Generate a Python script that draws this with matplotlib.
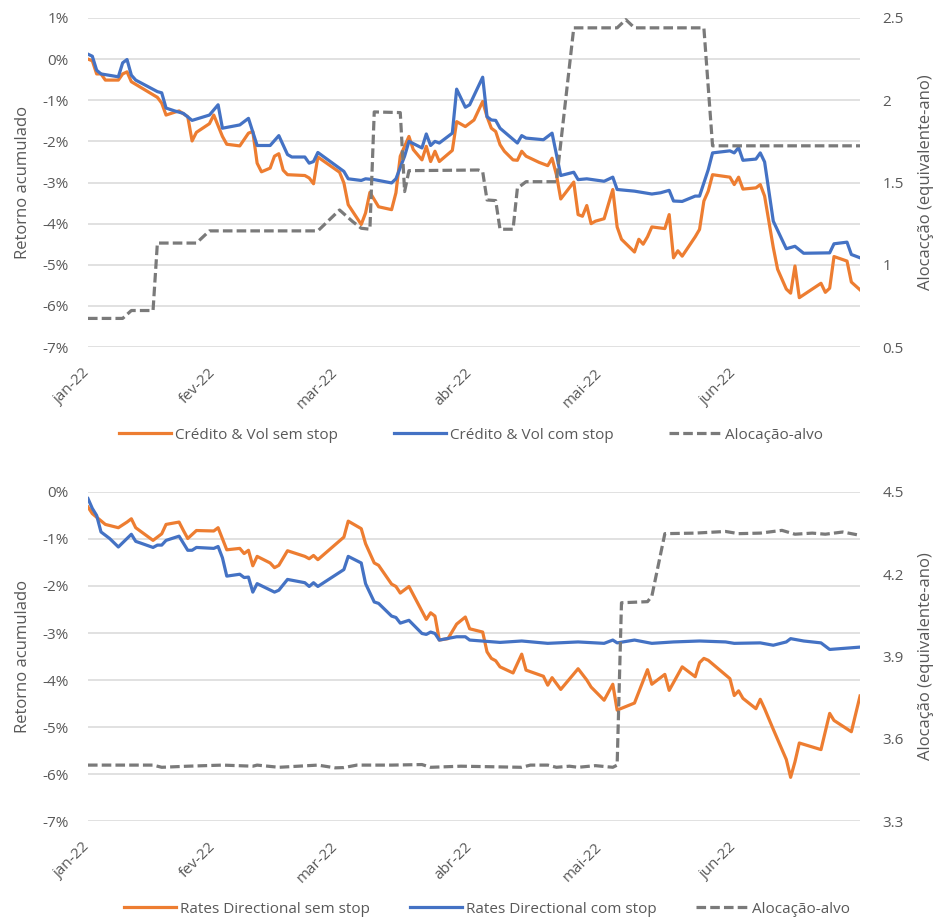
import matplotlib
matplotlib.use("Agg")
import matplotlib.pyplot as plt
from matplotlib.transforms import ScaledTranslation
import pandas as pd

# ---------------------------------------------------------------------------
# Dados (retorno acumulado em %, alocação em equivalente-ano)
# ---------------------------------------------------------------------------

MESES = ["jan-22", "fev-22", "mar-22", "abr-22", "mai-22", "jun-22"]
TICKS_MESES = ["01-03", "02-01", "03-01", "04-01", "05-01", "06-01"]

# Painel 1: Crédito & Vol
CV_SEM_DATAS = [
    "01-03", "01-04", "01-05", "01-06", "01-07", "01-10", "01-11", "01-12", "01-13", "01-19",
    "01-20", "01-21", "01-23", "01-24", "01-26", "01-27", "01-28", "01-31", "02-01", "02-03",
    "02-04", "02-07", "02-09", "02-10", "02-11", "02-12", "02-14", "02-15", "02-16", "02-17",
    "02-18", "02-22", "02-23", "02-24", "02-25", "03-02", "03-03", "03-04", "03-07", "03-08",
    "03-09", "03-11", "03-14", "03-15", "03-16", "03-17", "03-18", "03-19", "03-21", "03-22",
    "03-23", "03-24", "03-25", "03-28", "03-29", "03-31", "04-02", "04-04", "04-05", "04-06",
    "04-07", "04-08", "04-09", "04-11", "04-12", "04-13", "04-14", "04-17", "04-19", "04-20",
    "04-21", "04-22", "04-25", "04-26", "04-27", "04-28", "04-29", "04-30", "05-02", "05-04",
    "05-05", "05-06", "05-09", "05-10", "05-11", "05-12", "05-13", "05-16", "05-17", "05-18",
    "05-19", "05-20", "05-23", "05-24", "05-25", "05-26", "05-27", "05-31", "06-01", "06-02",
    "06-03", "06-06", "06-07", "06-08", "06-10", "06-11", "06-13", "06-14", "06-15", "06-16",
    "06-21", "06-22", "06-23", "06-24", "06-27", "06-28", "06-30",
]
CV_SEM = [
    0.00, -0.04, -0.36, -0.36, -0.51, -0.51, -0.36, -0.31, -0.55, -0.93,
    -1.07, -1.36, -1.29, -1.26, -1.40, -1.99, -1.78, -1.57, -1.36, -1.88,
    -2.07, -2.11, -1.80, -1.76, -2.53, -2.74, -2.65, -2.36, -2.30, -2.70,
    -2.81, -2.83, -2.89, -3.03, -2.38, -2.75, -3.01, -3.54, -4.02, -3.74,
    -3.24, -3.59, -3.66, -3.25, -2.36, -2.12, -1.88, -2.20, -2.45, -2.12,
    -2.49, -2.24, -2.49, -2.22, -1.52, -1.64, -1.48, -1.03, -1.40, -1.68,
    -1.76, -2.08, -2.24, -2.45, -2.46, -2.24, -2.36, -2.51, -2.59, -2.41,
    -2.81, -3.40, -2.99, -3.78, -3.82, -3.56, -4.00, -3.94, -3.88, -3.17,
    -4.08, -4.38, -4.69, -4.38, -4.50, -4.32, -4.08, -4.12, -3.78, -4.83,
    -4.66, -4.79, -4.32, -4.14, -3.45, -3.21, -2.81, -2.87, -3.05, -2.87,
    -3.16, -3.13, -3.05, -3.33, -4.58, -5.11, -5.59, -5.69, -5.03, -5.80,
    -5.45, -5.67, -5.57, -4.80, -4.91, -5.42, -5.61,
]

CV_COM_DATAS = [
    "01-03", "01-04", "01-05", "01-06", "01-10", "01-11", "01-12", "01-13", "01-14", "01-19",
    "01-20", "01-21", "01-23", "01-25", "01-27", "01-31", "02-02", "02-03", "02-07", "02-09",
    "02-11", "02-14", "02-16", "02-18", "02-19", "02-22", "02-23", "02-24", "02-25", "03-03",
    "03-04", "03-07", "03-08", "03-10", "03-14", "03-15", "03-17", "03-18", "03-21", "03-22",
    "03-23", "03-24", "03-25", "03-28", "03-29", "03-31", "04-01", "04-04", "04-05", "04-06",
    "04-07", "04-08", "04-12", "04-13", "04-14", "04-18", "04-20", "04-22", "04-25", "04-26",
    "04-28", "05-02", "05-04", "05-05", "05-09", "05-13", "05-15", "05-17", "05-18", "05-20",
    "05-23", "05-24", "05-25", "05-26", "05-27", "05-31", "06-01", "06-02", "06-03", "06-06",
    "06-07", "06-08", "06-10", "06-13", "06-15", "06-17", "06-23", "06-24", "06-27", "06-28",
    "06-30",
]
CV_COM = [
    0.12, 0.07, -0.27, -0.36, -0.43, -0.09, -0.01, -0.39, -0.51, -0.79,
    -0.82, -1.19, -1.26, -1.32, -1.49, -1.36, -1.11, -1.68, -1.60, -1.44,
    -2.10, -2.10, -1.86, -2.32, -2.38, -2.38, -2.53, -2.49, -2.27, -2.73,
    -2.91, -2.95, -2.91, -2.93, -3.01, -2.91, -2.36, -2.00, -2.16, -1.82,
    -2.10, -2.00, -2.04, -1.80, -0.73, -1.17, -1.11, -0.44, -1.40, -1.48,
    -1.49, -1.68, -2.04, -1.86, -1.92, -1.96, -1.80, -2.83, -2.75, -2.93,
    -2.91, -2.97, -2.87, -3.17, -3.21, -3.28, -3.25, -3.19, -3.45, -3.46,
    -3.33, -3.33, -3.01, -2.69, -2.28, -2.23, -2.28, -2.15, -2.46, -2.43,
    -2.28, -2.50, -3.94, -4.61, -4.55, -4.72, -4.71, -4.49, -4.45, -4.75,
    -4.83,
]

CV_ALOC_DATAS = [
    "01-03", "01-11", "01-13", "01-18", "01-19", "01-28", "01-31", "02-25", "03-02", "03-05",
    "03-07", "03-09", "03-10", "03-16", "03-17", "03-18", "04-03", "04-04", "04-05", "04-07",
    "04-08", "04-11", "04-12", "04-14", "04-21", "04-25", "05-05", "05-07", "05-09", "05-25",
    "05-27", "06-30",
]
CV_ALOC = [
    0.674, 0.674, 0.722, 0.722, 1.132, 1.132, 1.206, 1.206, 1.333, 1.263,
    1.222, 1.216, 1.929, 1.925, 1.445, 1.572, 1.576, 1.566, 1.394, 1.390,
    1.216, 1.216, 1.465, 1.505, 1.505, 2.440, 2.440, 2.490, 2.440, 2.440,
    1.723, 1.723,
]

# Painel 2: Rates Directional
RD_SEM_DATAS = [
    "01-03", "01-04", "01-07", "01-10", "01-12", "01-13", "01-14", "01-18", "01-20", "01-21",
    "01-24", "01-25", "01-26", "01-28", "02-01", "02-02", "02-04", "02-07", "02-08", "02-09",
    "02-10", "02-11", "02-14", "02-15", "02-16", "02-18", "02-22", "02-23", "02-24", "02-25",
    "03-03", "03-04", "03-07", "03-08", "03-10", "03-11", "03-14", "03-15", "03-16", "03-18",
    "03-22", "03-23", "03-24", "03-25", "03-27", "03-29", "03-31", "04-01", "04-04", "04-05",
    "04-06", "04-07", "04-08", "04-11", "04-13", "04-14", "04-18", "04-19", "04-20", "04-22",
    "04-26", "04-28", "04-29", "05-02", "05-04", "05-05", "05-09", "05-12", "05-13", "05-16",
    "05-17", "05-20", "05-23", "05-24", "05-25", "05-26", "05-31", "06-01", "06-02", "06-03",
    "06-06", "06-07", "06-08", "06-10", "06-13", "06-14", "06-15", "06-16", "06-21", "06-23",
    "06-24", "06-28", "06-30",
]
RD_SEM = [
    -0.32, -0.46, -0.69, -0.76, -0.64, -0.57, -0.76, -1.03, -0.89, -0.69,
    -0.64, -0.82, -0.99, -0.82, -0.83, -0.76, -1.23, -1.20, -1.31, -1.24,
    -1.57, -1.37, -1.51, -1.61, -1.56, -1.25, -1.37, -1.42, -1.35, -1.44,
    -0.96, -0.62, -0.78, -1.10, -1.51, -1.56, -1.96, -2.01, -2.15, -2.01,
    -2.71, -2.57, -2.64, -3.15, -3.12, -2.81, -2.66, -2.91, -2.98, -3.40,
    -3.54, -3.59, -3.72, -3.85, -3.45, -3.79, -3.92, -4.11, -3.95, -4.20,
    -3.76, -4.00, -4.15, -4.43, -4.09, -4.64, -4.49, -3.78, -4.09, -3.88,
    -4.22, -3.72, -3.93, -3.63, -3.54, -3.58, -3.97, -4.33, -4.23, -4.39,
    -4.61, -4.41, -4.61, -5.05, -5.69, -6.07, -5.74, -5.34, -5.48, -4.71,
    -4.86, -5.10, -4.34,
]

RD_COM_DATAS = [
    "01-03", "01-04", "01-05", "01-06", "01-08", "01-10", "01-11", "01-13", "01-14", "01-18",
    "01-19", "01-20", "01-21", "01-24", "01-26", "01-27", "01-28", "02-01", "02-02", "02-03",
    "02-04", "02-07", "02-08", "02-09", "02-10", "02-11", "02-15", "02-16", "02-18", "02-22",
    "02-23", "02-24", "02-25", "03-03", "03-04", "03-07", "03-08", "03-10", "03-11", "03-14",
    "03-15", "03-16", "03-18", "03-21", "03-22", "03-23", "03-24", "03-25", "03-29", "03-31",
    "04-01", "04-08", "04-13", "04-19", "04-26", "05-02", "05-04", "05-05", "05-09", "05-13",
    "05-18", "05-24", "05-30", "06-01", "06-07", "06-10", "06-13", "06-14", "06-17", "06-21",
    "06-23", "06-30",
]
RD_COM = [
    -0.14, -0.35, -0.50, -0.85, -0.99, -1.17, -1.08, -0.90, -1.05, -1.18,
    -1.13, -1.13, -1.03, -0.94, -1.24, -1.24, -1.18, -1.20, -1.16, -1.40,
    -1.79, -1.75, -1.82, -1.81, -2.13, -1.95, -2.13, -2.09, -1.86, -1.93,
    -2.01, -1.93, -2.01, -1.65, -1.37, -1.51, -1.95, -2.34, -2.37, -2.64,
    -2.67, -2.79, -2.73, -3.01, -3.03, -2.98, -3.01, -3.15, -3.08, -3.08,
    -3.15, -3.20, -3.17, -3.22, -3.19, -3.22, -3.15, -3.21, -3.15, -3.22,
    -3.19, -3.17, -3.19, -3.22, -3.21, -3.26, -3.19, -3.12, -3.17, -3.21,
    -3.35, -3.30,
]

RD_ALOC_DATAS = [
    "01-03", "01-18", "01-20", "01-26", "02-03", "02-10", "02-11", "02-16", "02-25", "03-01",
    "03-03", "03-06", "03-14", "03-21", "03-23", "03-30", "04-13", "04-15", "04-19", "04-21",
    "04-24", "04-26", "04-30", "05-04", "05-05", "05-06", "05-12", "05-13", "05-16", "05-23",
    "05-30", "06-02", "06-07", "06-12", "06-15", "06-19", "06-22", "06-26", "06-30",
]
RD_ALOC = [
    3.504, 3.504, 3.496, 3.500, 3.504, 3.500, 3.504, 3.496, 3.504, 3.494,
    3.495, 3.504, 3.504, 3.506, 3.496, 3.500, 3.496, 3.504, 3.504, 3.496,
    3.500, 3.496, 3.502, 3.496, 3.504, 4.096, 4.100, 4.120, 4.348, 4.350,
    4.356, 4.348, 4.350, 4.360, 4.346, 4.350, 4.346, 4.354, 4.342,
]

# ---------------------------------------------------------------------------
# Estilo
# ---------------------------------------------------------------------------

LARANJA = "#ED7D31"
AZUL = "#4472C4"
CINZA = "#7A7A7A"
TEXTO = "#595959"
GRADE = "#D9D9D9"

plt.rcParams["font.family"] = "Open Sans"


def datas(lista):
    return pd.to_datetime(["2022-" + d for d in lista])


def painel(fig, ax, sem, com, aloc, nomes, lim_esq, lim_dir, ticks_dir, rotulo_dir,
           leg_x, leg_espaco):
    ax.grid(axis="y", color=GRADE, linewidth=1.1)
    ax.set_axisbelow(True)
    l1, = ax.plot(datas(sem[0]), sem[1], color=LARANJA, lw=2.3, label=nomes[0])
    l2, = ax.plot(datas(com[0]), com[1], color=AZUL, lw=2.3, label=nomes[1])

    ax2 = ax.twinx()
    l3, = ax2.plot(datas(aloc[0]), aloc[1], color=CINZA, lw=2.3,
                   linestyle=(0, (3.0, 1.3)), label=nomes[2])

    ax.set_xlim(pd.Timestamp("2022-01-03"), pd.Timestamp("2022-06-30"))
    ax.set_xticks(datas(TICKS_MESES))
    ax.set_xticklabels(MESES, rotation=45, ha="right", va="center",
                       rotation_mode="anchor", color=TEXTO, fontsize=11)
    desloc = ScaledTranslation(3 / 100, 0, fig.dpi_scale_trans)
    for rot in ax.get_xticklabels():
        rot.set_transform(rot.get_transform() + desloc)

    ax.set_ylim(*lim_esq)
    ticks_esq = list(range(lim_esq[0], lim_esq[1] + 1))
    ax.set_yticks(ticks_esq)
    ax.set_yticklabels([f"{t}%" for t in ticks_esq], color=TEXTO, fontsize=11)
    ax.set_ylabel("Retorno acumulado", color=TEXTO, fontsize=12, labelpad=8)

    ax2.set_ylim(*lim_dir)
    ax2.set_yticks(ticks_dir)
    ax2.set_yticklabels([f"{t:g}" for t in ticks_dir], color=TEXTO, fontsize=11)
    ax2.set_ylabel(rotulo_dir, color=TEXTO, fontsize=12, labelpad=10)

    for a in (ax, ax2):
        for s in a.spines.values():
            s.set_visible(False)
        a.tick_params(length=0)
    ax.tick_params(axis="y", pad=14)
    ax.tick_params(axis="x", pad=17)
    ax2.tick_params(axis="y", pad=16)

    ax.legend([l1, l2, l3], nomes, loc="center", bbox_to_anchor=(leg_x, -0.268),
              ncol=3, frameon=False, handlelength=3.4, handletextpad=0.26,
              columnspacing=leg_espaco, prop={"size": 11}, labelcolor=TEXTO)


fig = plt.figure(figsize=(9.34, 9.22), dpi=100)
ax_cima = fig.add_axes([0.0942, 0.6236, 0.8266, 0.3569])
ax_baixo = fig.add_axes([0.0942, 0.1095, 0.8266, 0.3569])

painel(fig, ax_cima, (CV_SEM_DATAS, CV_SEM), (CV_COM_DATAS, CV_COM), (CV_ALOC_DATAS, CV_ALOC),
       ["Crédito & Vol sem stop", "Crédito & Vol com stop", "Alocação-alvo"],
       (-7, 1), (0.5, 2.5), [0.5, 1, 1.5, 2, 2.5], "Alocacção (equivalente-ano)",
       0.496, 3.65)

painel(fig, ax_baixo, (RD_SEM_DATAS, RD_SEM), (RD_COM_DATAS, RD_COM), (RD_ALOC_DATAS, RD_ALOC),
       ["Rates Directional sem stop", "Rates Directional com stop", "Alocação-alvo"],
       (-7, 0), (3.3, 4.5), [3.3, 3.6, 3.9, 4.2, 4.5], "Alocação (equivalente-ano)",
       0.517, 2.6)

fig.savefig("out.png", dpi=100, facecolor="white")
plt.close(fig)
